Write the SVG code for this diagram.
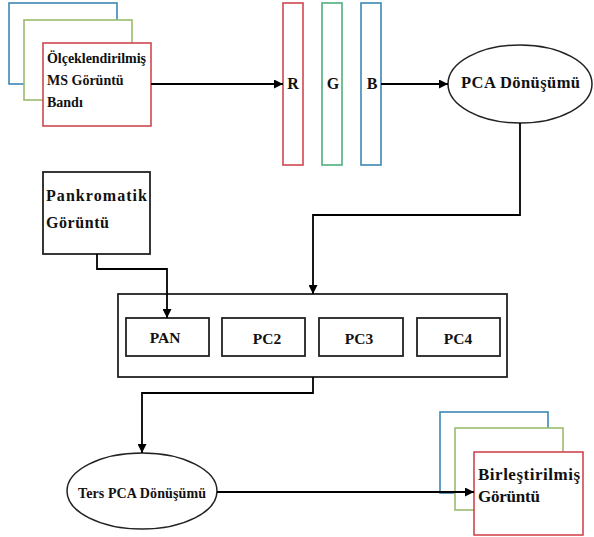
<svg xmlns="http://www.w3.org/2000/svg" width="594" height="537" viewBox="0 0 594 537">
<style>
.t{font-family:"Liberation Serif","Times New Roman",serif;font-weight:bold;fill:#111}
.blue{fill:#fff;stroke:#3b88b5;stroke-width:1.6}
.green{fill:#fff;stroke:#9bbb6e;stroke-width:1.6}
.red{fill:#fff;stroke:#d2464f;stroke-width:1.6}
.teal{fill:#fff;stroke:#4daf7c;stroke-width:1.6}
.box{fill:#fff;stroke:#222;stroke-width:1.8}
.c{fill:none;stroke:#000;stroke-width:1.8}
</style>
<defs>
<marker id="ah" viewBox="0 0 10 10" refX="10" refY="5" markerWidth="9" markerHeight="9" markerUnits="userSpaceOnUse" orient="auto"><path d="M0,0 L10,5 L0,10 z" fill="#000"/></marker>
</defs>
<rect width="594" height="537" fill="#fff"/>
<g id="ms-stack">
<rect class="blue" x="9" y="3" width="108" height="81"/>
<rect class="green" x="24" y="20" width="108" height="80"/>
<rect class="red" x="43" y="43" width="108" height="83"/>
<text class="t" x="47" y="63" font-size="14" textLength="99" lengthAdjust="spacing">Ölçeklendirilmiş</text>
<text class="t" x="47" y="85" font-size="14">MS Görüntü</text>
<text class="t" x="47" y="107" font-size="14">Bandı</text>
</g>
<g id="R"><rect class="red" x="283" y="3" width="20" height="162"/><text class="t" x="293" y="89" font-size="16" text-anchor="middle">R</text></g>
<g id="G"><rect class="teal" x="322" y="3" width="20" height="162"/><text class="t" x="333" y="89" font-size="16" text-anchor="middle">G</text></g>
<g id="B"><rect class="blue" x="361" y="3" width="20" height="162"/><text class="t" x="372" y="89" font-size="16" text-anchor="middle">B</text></g>
<g id="pca"><ellipse cx="520" cy="84" rx="72" ry="39" fill="#fff" stroke="#222" stroke-width="1.5"/><text class="t" x="461" y="88" font-size="16.5" textLength="119" lengthAdjust="spacing">PCA Dönüşümü</text></g>
<g id="pan-img"><rect class="box" x="43" y="172" width="107" height="82"/>
<text class="t" x="46" y="201" font-size="16" textLength="101" lengthAdjust="spacing">Pankromatik</text>
<text class="t" x="46" y="228" font-size="16" textLength="63" lengthAdjust="spacing">Görüntü</text></g>
<g id="components"><rect class="box" x="118" y="294" width="389" height="83"/></g>
<g id="PAN"><rect class="box" x="126" y="318" width="83" height="38"/><text class="t" x="165" y="343" font-size="15.5" text-anchor="middle">PAN</text></g>
<g id="PC2"><rect class="box" x="222" y="318" width="83" height="38"/><text class="t" x="267" y="344" font-size="15.5" text-anchor="middle">PC2</text></g>
<g id="PC3"><rect class="box" x="319" y="318" width="84" height="38"/><text class="t" x="359" y="344" font-size="15.5" text-anchor="middle">PC3</text></g>
<g id="PC4"><rect class="box" x="417" y="318" width="83" height="38"/><text class="t" x="458" y="344" font-size="15.5" text-anchor="middle">PC4</text></g>
<g id="ters"><ellipse cx="142" cy="491" rx="75" ry="38" fill="#fff" stroke="#222" stroke-width="1.5"/><text class="t" x="78" y="498" font-size="14" textLength="128" lengthAdjust="spacing">Ters PCA Dönüşümü</text></g>
<g id="result">
<rect class="blue" x="440" y="412" width="108" height="81"/>
<rect class="green" x="455" y="428" width="108" height="82"/>
<rect class="red" x="474" y="452" width="109" height="83"/>
<text class="t" x="478" y="480" font-size="17" textLength="102" lengthAdjust="spacing">Birleştirilmiş</text>
<text class="t" x="478" y="502" font-size="17" textLength="62" lengthAdjust="spacing">Görüntü</text>
</g>
<g id="connectors">
<path class="c" d="M151,84 H283" marker-end="url(#ah)"/>
<path class="c" d="M381,84 H448" marker-end="url(#ah)"/>
<path class="c" d="M520,123 V215 H313 V294" marker-end="url(#ah)"/>
<path class="c" d="M97,254 V269 H167 V318" marker-end="url(#ah)"/>
<path class="c" d="M313,377 V393 H142 V453" marker-end="url(#ah)"/>
<path class="c" d="M217,492 H474" marker-end="url(#ah)" stroke-width="1.4"/>
</g>
</svg>
